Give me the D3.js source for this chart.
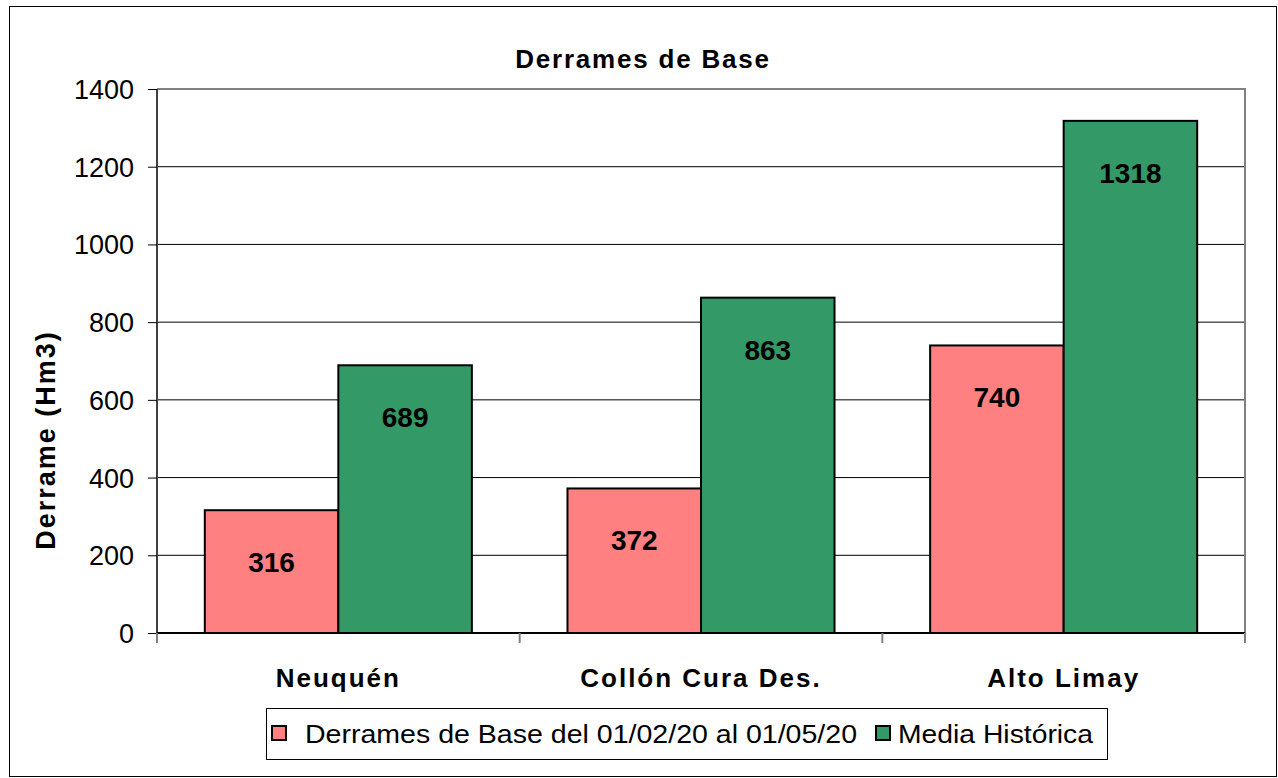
<!DOCTYPE html>
<html><head><meta charset="utf-8">
<script src="https://cdn.jsdelivr.net/npm/d3@7"></script>
<style>body{margin:0;background:#fff}svg{display:block}text{font-family:"Liberation Sans",Arial,sans-serif}</style>
</head><body>
<script>
const categories = ["Neuquén", "Collón Cura Des.", "Alto Limay"];
const seriesNames = ["Derrames de Base del 01/02/20 al 01/05/20", "Media Histórica"];
const baseValues = [316, 372, 740];
const mediaValues = [689, 863, 1318];
const yTicks = [0, 200, 400, 600, 800, 1000, 1200, 1400];
const colors = ["#FF8080", "#339966"];

const W = 1278, H = 778;
const svg = d3.select("body").append("svg").attr("width", W).attr("height", H);
svg.append("rect").attr("x", 9.5).attr("y", 6.5).attr("width", 1267).attr("height", 770)
  .attr("fill", "#fff").attr("stroke", "#000").attr("stroke-width", 1);

const L = 157, R = 1245, T = 89, B = 633;
const x = d3.scaleBand().domain(categories).range([L, R]).paddingInner(0).paddingOuter(0);
const x1 = d3.scaleBand().domain([0, 1]).range([0, x.bandwidth()]).paddingOuter(0.358).paddingInner(0);
const y = d3.scaleLinear().domain([0, 1400]).range([B, T]);

// gridlines
svg.append("g").selectAll("line").data(yTicks.filter(d => d > 0 && d < 1400)).join("line")
  .attr("x1", L).attr("x2", R).attr("y1", d => y(d)).attr("y2", d => y(d))
  .attr("stroke", "#000").attr("stroke-width", 1);
// plot border top/right
svg.append("path").attr("d", `M${L},${T}H${R}V${B}`).attr("fill", "none").attr("stroke", "#808080").attr("stroke-width", 2);

const data = categories.map((c, i) => ({c, v: [baseValues[i], mediaValues[i]]}));
const g = svg.append("g");
data.forEach(d => {
  d.v.forEach((v, j) => {
    const bx = x(d.c) + x1(j);
    g.append("rect").attr("x", bx).attr("y", y(v)).attr("width", x1.bandwidth()).attr("height", y(0) - y(v))
      .attr("fill", colors[j]).attr("stroke", "#000").attr("stroke-width", 2);
    g.append("text").attr("x", bx + x1.bandwidth() / 2).attr("y", y(v) + 62)
      .attr("text-anchor", "middle").attr("font-size", 28).attr("font-weight", "bold").text(v);
  });
});

// y axis
const yAxis = d3.axisLeft(y).tickValues(yTicks).tickFormat(d3.format("d")).tickSize(9).tickPadding(14);
const ya = svg.append("g").attr("transform", `translate(${L},0)`).call(yAxis);
ya.attr("font-family", null).attr("font-size", null);
ya.select(".domain").attr("stroke", "#404040").attr("stroke-width", 2).attr("d", `M0,${T}V${B + 10}`);
ya.selectAll(".tick line").attr("stroke", "#000");
ya.selectAll(".tick text").attr("font-size", 27).attr("fill", "#000").attr("dy", "0.35em");

// x axis
const xa = svg.append("g").attr("transform", `translate(0,${B})`);
xa.append("line").attr("x1", L).attr("x2", R).attr("stroke", "#000").attr("stroke-width", 2);
const xt = [...categories.map(c => x(c)), R];
xa.selectAll(".tk").data(xt).join("line").attr("x1", d => d).attr("x2", d => d).attr("y1", 0).attr("y2", 10)
  .attr("stroke", "#808080").attr("stroke-width", 2);
xa.selectAll(".lbl").data(categories).join("text").attr("x", d => x(d) + x.bandwidth() / 2).attr("y", 54)
  .attr("text-anchor", "middle").attr("font-size", 26).attr("font-weight", "bold").attr("letter-spacing", 2).text(d => d);

// title
svg.append("text").attr("x", 643).attr("y", 68).attr("text-anchor", "middle").attr("font-size", 26)
  .attr("font-weight", "bold").attr("letter-spacing", 1.8).text("Derrames de Base");

// y title
svg.append("text").attr("transform", `translate(55,440) rotate(-90)`).attr("text-anchor", "middle")
  .attr("font-size", 27).attr("font-weight", "bold").attr("letter-spacing", 2).text("Derrame (Hm3)");

// legend
const lg = svg.append("g");
lg.append("rect").attr("x", 266.5).attr("y", 708.5).attr("width", 841).attr("height", 51)
  .attr("fill", "#fff").attr("stroke", "#000").attr("stroke-width", 1);
const legItems = [{sx: 272, tx: 305, tl: 552}, {sx: 876, tx: 898, tl: 195}];
legItems.forEach((it, j) => {
  lg.append("rect").attr("x", it.sx).attr("y", 726).attr("width", 14).attr("height", 14)
    .attr("fill", colors[j]).attr("stroke", "#000").attr("stroke-width", 2);
  lg.append("text").attr("x", it.tx).attr("y", 743).attr("font-size", 25).attr("textLength", it.tl)
    .attr("lengthAdjust", "spacingAndGlyphs").text(seriesNames[j]);
});
</script>
</body></html>
